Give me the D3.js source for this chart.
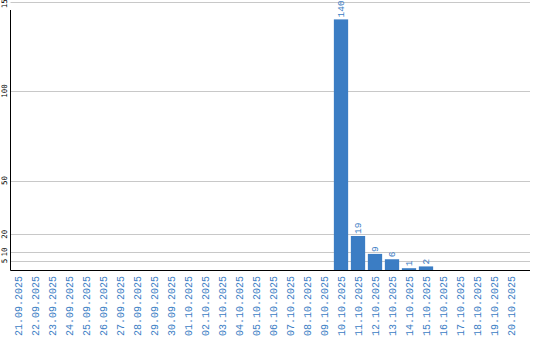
<!DOCTYPE html>
<html>
<head>
<meta charset="utf-8">
<script src="https://cdn.jsdelivr.net/npm/d3@7"></script>
<style>
  body { margin: 0; background: #fff; }
  svg { display: block; }
</style>
</head>
<body>
<svg id="chart"></svg>
<script>
// dates shown on the x axis
const dates = [
  "21.09.2025", "22.09.2025", "23.09.2025", "24.09.2025", "25.09.2025",
  "26.09.2025", "27.09.2025", "28.09.2025", "29.09.2025", "30.09.2025",
  "01.10.2025", "02.10.2025", "03.10.2025", "04.10.2025", "05.10.2025",
  "06.10.2025", "07.10.2025", "08.10.2025", "09.10.2025", "10.10.2025",
  "11.10.2025", "12.10.2025", "13.10.2025", "14.10.2025", "15.10.2025",
  "16.10.2025", "17.10.2025", "18.10.2025", "19.10.2025", "20.10.2025"
];
const counts = [
  0, 0, 0, 0, 0, 0, 0, 0, 0, 0,
  0, 0, 0, 0, 0, 0, 0, 0, 0, 140,
  19, 9, 6, 1, 2, 0, 0, 0, 0, 0
];
const yTicks = [5, 10, 20, 50, 100, 150];

const W = 540, H = 340;
const barColor = "#3b7dc4";
const left = 10.5, right = 530, base = 270;

const svg = d3.select("#chart").attr("width", W).attr("height", H);

const x = d3.scaleBand()
  .domain(dates)
  .range([9.5, 519.5])
  .paddingInner(0.16)
  .paddingOuter(0.08);

const y = d3.scaleLinear()
  .domain([0, 150])
  .range([base, 1.5]);

// grid lines
svg.append("g")
  .selectAll("line")
  .data(yTicks)
  .join("line")
  .attr("x1", left)
  .attr("x2", right)
  .attr("y1", d => Math.round(y(d)) + 0.5)
  .attr("y2", d => Math.round(y(d)) + 0.5)
  .attr("stroke", "#c8c8c8")
  .attr("stroke-width", 1);

// y tick labels (rotated)
svg.append("g")
  .selectAll("text")
  .data(yTicks)
  .join("text")
  .attr("transform", d => `translate(4.5,${y(d)}) rotate(-90)`)
  .attr("text-anchor", "middle")
  .attr("dy", "0.35em")
  .style("font-family", "'DejaVu Sans Mono', monospace")
  .style("font-size", "7.5px")
  .attr("fill", "#000")
  .text(d => d);

// bars
svg.append("g")
  .selectAll("rect")
  .data(counts)
  .join("rect")
  .attr("x", (d, i) => x(dates[i]))
  .attr("width", x.bandwidth())
  .attr("y", d => y(d))
  .attr("height", d => base - y(d))
  .attr("fill", barColor);

// value labels
svg.append("g")
  .selectAll("text")
  .data(counts.map((v, i) => ({ v, i })).filter(d => d.v > 0))
  .join("text")
  .attr("transform", d => `translate(${x(dates[d.i]) + x.bandwidth() / 2},${y(d.v) - 2}) rotate(-90)`)
  .attr("text-anchor", "start")
  .attr("dy", "0.35em")
  .style("font-family", "'Liberation Mono', monospace")
  .style("font-size", "9.5px")
  .attr("fill", barColor)
  .text(d => d.v);

// axes lines
svg.append("line")
  .attr("x1", left).attr("x2", left)
  .attr("y1", 10).attr("y2", base + 0.5)
  .attr("stroke", "#000");
svg.append("line")
  .attr("x1", left).attr("x2", right)
  .attr("y1", base + 0.5).attr("y2", base + 0.5)
  .attr("stroke", "#000");

// x labels
svg.append("g")
  .selectAll("text")
  .data(dates)
  .join("text")
  .attr("transform", d => `translate(${x(d) + x.bandwidth() / 2},276) rotate(-90)`)
  .attr("text-anchor", "end")
  .attr("dy", "0.35em")
  .style("font-family", "'Liberation Mono', monospace")
  .style("font-size", "10px")
  .attr("fill", barColor)
  .text(d => d);
</script>
</body>
</html>
